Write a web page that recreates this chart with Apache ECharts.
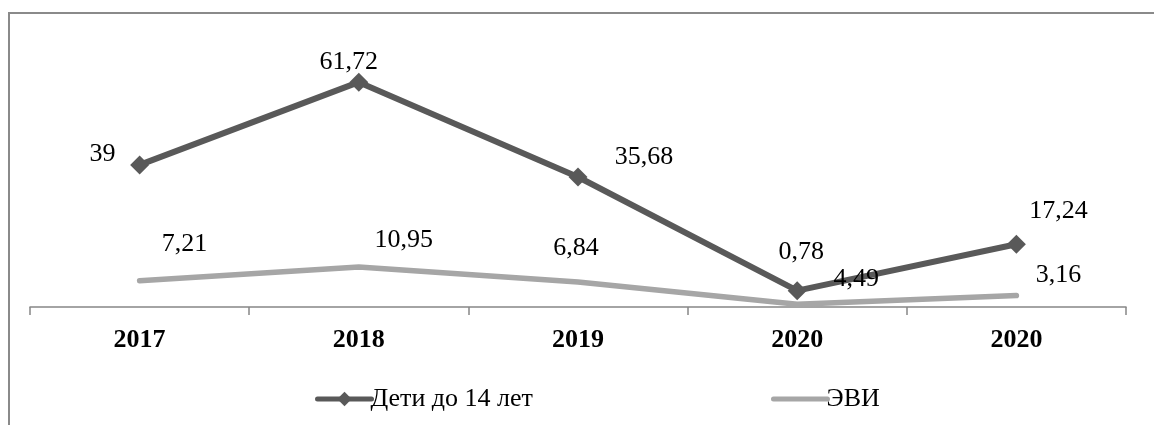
<!DOCTYPE html>
<html>
<head>
<meta charset="utf-8">
<script src="https://cdn.jsdelivr.net/npm/echarts@6/dist/echarts.min.js"></script>
<style>html,body{margin:0;padding:0;background:#fff}#c{width:1154px;height:425px}</style>
</head>
<body>
<div id="c"></div>
<script>
const categories = ['2017', '2018', '2019', '2020', '2020'];
const childrenName = 'Дети до 14 лет';
const eviName = 'ЭВИ';
const childrenValues = [39, 61.72, 35.68, 4.49, 17.24];
const eviValues = [7.21, 10.95, 6.84, 0.78, 3.16];

// label placement (layout only)
const childrenLabelOffsets = [[-37, -11], [-10, -20], [66, -20], [59, -11], [42, -33]];
const eviLabelOffsets = [[45, -37], [45, -27], [-2, -34], [4, -52], [42, -20]];

const FONT = '"Liberation Serif", "Times New Roman", serif';
const fmt = v => String(v).replace('.', ',');

function withLabels(values, offsets) {
  return values.map((v, i) => ({
    value: v,
    label: { offset: offsets[i] }
  }));
}

const chart = echarts.init(document.getElementById('c'), null, { renderer: 'canvas' });
chart.setOption({
  animation: false,
  backgroundColor: '#fff',
  graphic: [{
    type: 'rect',
    shape: { x: 9, y: 13, width: 1300, height: 600 },
    style: { fill: 'none', stroke: '#8a8a8a', lineWidth: 2 },
    silent: true
  }],
  grid: { left: 30, right: 28, top: 52, bottom: 118 },
  xAxis: {
    type: 'category',
    data: categories,
    boundaryGap: true,
    axisLine: { lineStyle: { color: '#868686', width: 1.5 } },
    axisTick: { show: true, interval: 0, length: 8, lineStyle: { color: '#868686', width: 1.5 } },
    axisLabel: { interval: 0, margin: 20, color: '#000', fontFamily: FONT, fontWeight: 'bold', fontSize: 26 }
  },
  yAxis: {
    type: 'value', min: 0, max: 70, show: false, splitLine: { show: false }
  },
  legend: {
    data: [
      { name: childrenName },
      { name: eviName, itemStyle: { opacity: 0 } }
    ],
    left: 310,
    top: 381,
    itemWidth: 54,
    itemHeight: 18,
    itemGap: 238,
    lineStyle: { width: 5, cap: 'round' },
    textStyle: { fontFamily: FONT, fontSize: 26, color: '#000', padding: [0, 0, 0, -6] }
  },
  series: [
    {
      name: eviName,
      type: 'line',
      data: eviValues,
      symbol: 'none',
      lineStyle: { color: '#a6a6a6', width: 5.5, cap: 'round', join: 'round' },
      itemStyle: { color: '#a6a6a6' },
      z: 2
    },
    {
      name: eviName + ' labels',
      type: 'scatter',
      data: withLabels(eviValues, eviLabelOffsets),
      symbolSize: 1,
      itemStyle: { color: 'rgba(0,0,0,0)', opacity: 1 },
      silent: true,
      label: {
        show: true, position: 'inside', color: '#000', opacity: 1, fontFamily: FONT, fontSize: 26,
        formatter: p => fmt(p.value)
      },
      z: 5
    },
    {
      name: childrenName,
      type: 'line',
      data: withLabels(childrenValues, childrenLabelOffsets),
      symbol: 'diamond',
      symbolSize: 19,
      lineStyle: { color: '#595959', width: 6, cap: 'round', join: 'round' },
      itemStyle: { color: '#595959' },
      label: {
        show: true, position: 'inside', color: '#000', fontFamily: FONT, fontSize: 26,
        formatter: p => fmt(p.value)
      },
      z: 3
    }
  ]
});
</script>
</body>
</html>
